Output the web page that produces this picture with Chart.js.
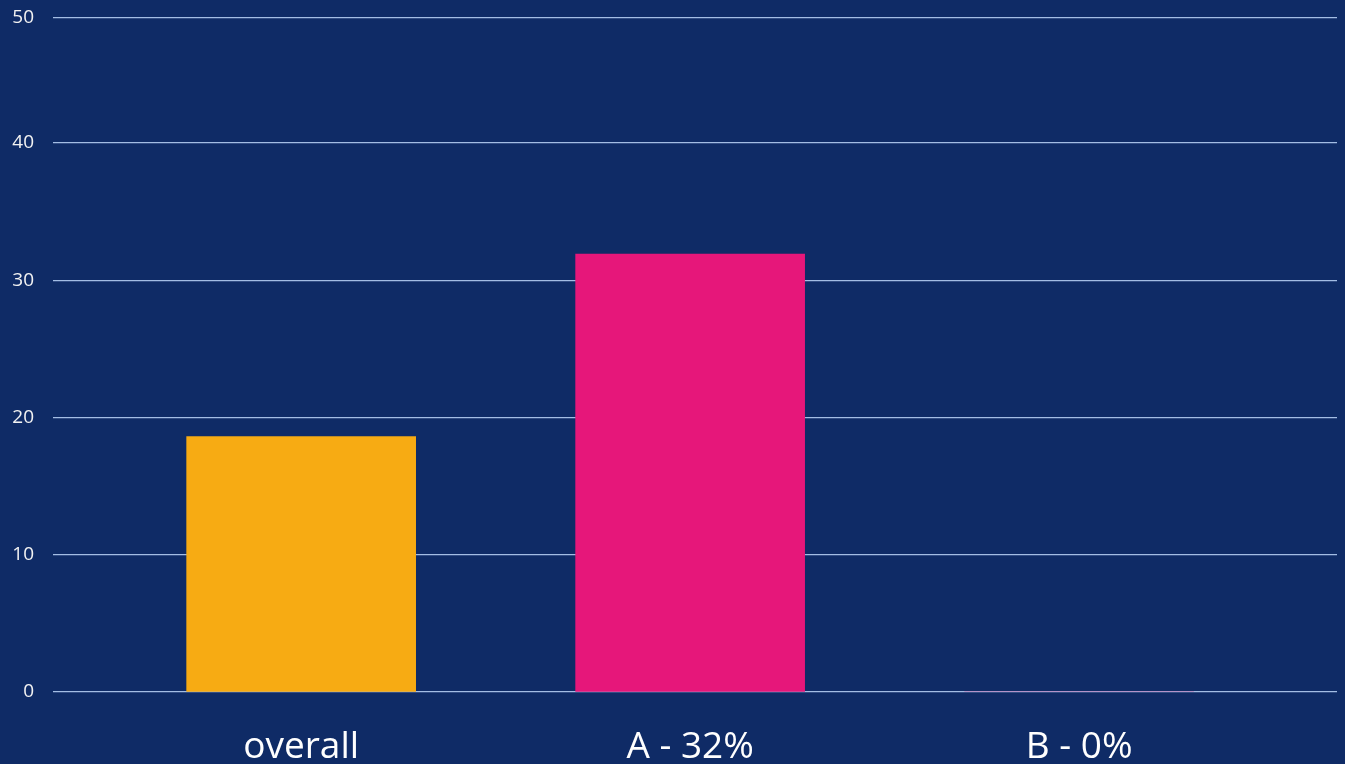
<!DOCTYPE html>
<html>
<head>
<meta charset="utf-8">
<script src="https://cdn.jsdelivr.net/npm/chart.js@4/dist/chart.umd.min.js"></script>
<style>
html,body{margin:0;padding:0;background:#0f2b66;overflow:hidden;}
canvas{display:block;}
</style>
</head>
<body>
<canvas id="c" width="1345" height="764"></canvas>
<script>
const categories = ['overall', 'A - 32%', 'B - 0%'];
const values = [18.6, 31.9, 0];
const barColors = ['#f7ab13', '#e6177a', '#e6177a'];
const yTickValues = [0, 10, 20, 30, 40, 49.1];
const yTickLabels = ['0', '10', '20', '30', '40', '50'];
const xPositions = [0, 1, 2];

const points = values.map((v, i) => ({x: xPositions[i], y: v}));

new Chart(document.getElementById('c'), {
  type: 'bar',
  data: {
    datasets: [{
      data: points,
      backgroundColor: barColors,
      borderWidth: 0,
      barThickness: 229
    }]
  },
  options: {
    responsive: false,
    animation: false,
    layout: {padding: {top: 0, right: 8, left: 0, bottom: 0}},
    plugins: {legend: {display: false}, tooltip: {enabled: false}},
    scales: {
      x: {
        type: 'linear',
        offset: false,
        min: -0.638,
        max: 2.663,
        grid: {display: false, drawTicks: false, offset: false},
        border: {display: false},
        afterBuildTicks: (s) => { s.ticks = xPositions.map(v => ({value: v})); },
        afterFit: (s) => { s.height = 72; s.paddingLeft = 0; s.paddingRight = 0; },
        ticks: {
          color: '#ffffff',
          padding: 33,
          font: {family: 'Open Sans', size: 37},
          maxRotation: 0,
          autoSkip: false,
          callback: (v) => categories[xPositions.indexOf(v)]
        }
      },
      y: {
        min: 0,
        max: 49.1,
        grid: {color: 'rgba(190,215,250,0.85)', lineWidth: 1.3, drawTicks: false},
        border: {display: false},
        afterBuildTicks: (s) => { s.ticks = yTickValues.map(v => ({value: v})); },
        afterFit: (s) => { s.width = 53; s.paddingTop = 18; s.paddingBottom = 0; },
        ticks: {
          color: '#f2f2f2',
          padding: 19,
          font: {family: 'Open Sans', size: 19},
          callback: (v) => yTickLabels[yTickValues.indexOf(v)]
        }
      }
    }
  }
});
</script>
</body>
</html>
